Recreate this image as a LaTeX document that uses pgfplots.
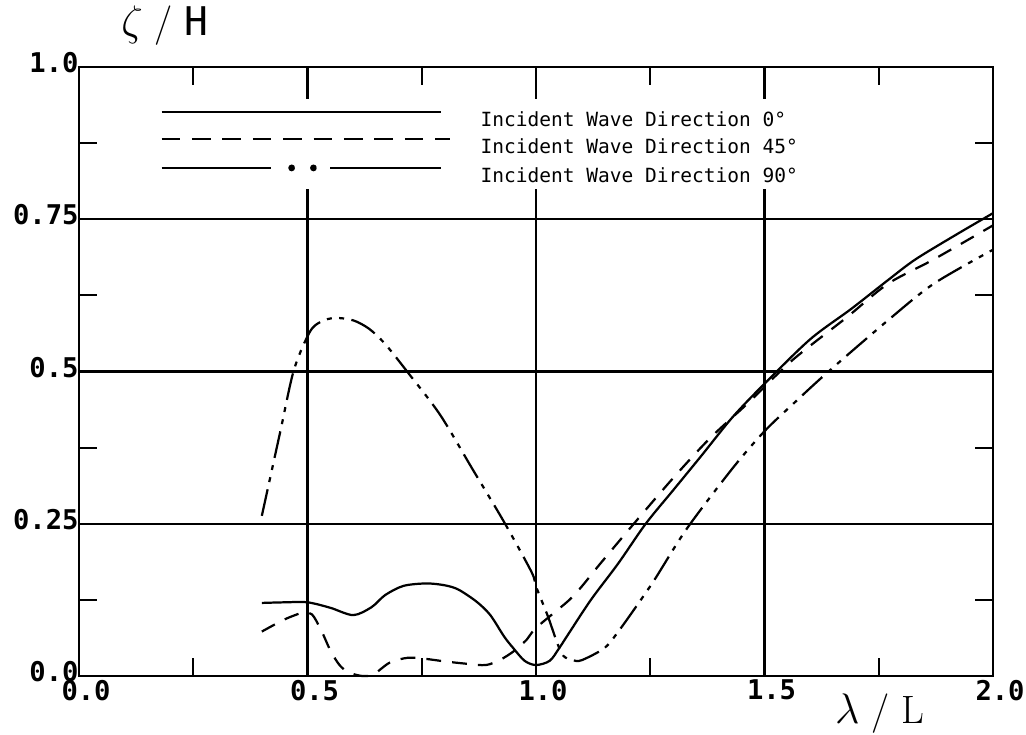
\documentclass[border=0pt]{standalone}
\usepackage{fontspec}
\setmonofont{DejaVu Sans Mono}
\usepackage{pgfplots}
\pgfplotsset{compat=1.18}
\begin{document}
\begin{tikzpicture}
\path[use as bounding box] (-1.124,-0.825) rectangle (13.469,9.615);
\begin{axis}[
  at={(0,0)}, anchor=south west,
  scale only axis, width=13cm, height=8.662cm,
  xmin=0, xmax=2, ymin=0, ymax=1,
  axis line style={line width=0.9pt},
  xtick={0,0.5,1,1.5,2}, xticklabels={0.0,0.5,1.0,1.5,2.0},
  minor xtick={0.25,0.75,1.25,1.75},
  ytick={0,0.25,0.5,0.75,1}, yticklabels={0.0,0.25,0.5,0.75,1.0},
  minor ytick={0.125,0.375,0.625,0.875},
  tick align=inside,
  major tick length=0.45cm, minor tick length=0.26cm,
  every tick/.style={black, line width=0.9pt},
  ymajorgrids, grid style={black, line width=0.9pt},
  ticklabel style={font=\fontsize{11}{13}\selectfont\ttfamily\bfseries},
  xticklabel style={anchor=north, inner sep=0pt, yshift=-0.05cm, xshift=0.1cm},
  yticklabel style={anchor=east, inner sep=0pt, xshift=0.0cm, yshift=0.06cm},
  legend style={at={(rel axis cs:0.0886,0.929)}, anchor=north west, draw=none, fill=none,
    inner sep=0pt, row sep=4.6pt, font=\fontsize{7.9}{9}\selectfont\ttfamily,
    nodes={inner sep=0pt, text height=6pt, text depth=0pt}},
  legend cell align=left,
  clip=false,
]
% vertical grid lines (stop below the legend)
\addplot[black, line width=0.9pt, forget plot] coordinates {(0.5,0) (0.5,0.8)};
\addplot[black, line width=0.9pt, forget plot] coordinates {(1.0,0) (1.0,0.8)};
\addplot[black, line width=0.9pt, forget plot] coordinates {(1.5,0) (1.5,0.8)};

% 0 deg (solid)
\addplot[black, line width=0.9pt, smooth,
  legend image code/.code={\draw[black, solid, line width=0.9pt] (0cm,0.1cm) -- (3.97cm,0.1cm); \path (4.52cm,0.1cm);}]
coordinates {
(0.40,0.120)(0.45,0.121)(0.50,0.121)(0.55,0.112)(0.60,0.100)(0.64,0.113)(0.67,0.133)
(0.71,0.148)(0.76,0.152)(0.80,0.149)(0.83,0.142)(0.87,0.122)(0.90,0.100)(0.93,0.065)
(0.95,0.046)(0.975,0.025)(1.00,0.018)(1.03,0.025)(1.05,0.045)(1.07,0.068)(1.12,0.125)
(1.18,0.185)(1.24,0.250)(1.30,0.305)(1.36,0.360)(1.43,0.425)(1.50,0.480)(1.60,0.553)
(1.69,0.603)(1.77,0.650)(1.83,0.684)(1.92,0.725)(2.00,0.760)
};
\addlegendentry{Incident Wave Direction 0°}

% 45 deg (dashed)
\addplot[black, line width=0.9pt, smooth, dash pattern=on 6pt off 4.5pt,
  legend image code/.code={\draw[black, line width=0.9pt, dash pattern=on 7.5pt off 4.8pt] (0cm,0.1cm) -- (4.1cm,0.1cm); \path (4.52cm,0.1cm);}]
coordinates {
(0.40,0.073)(0.45,0.093)(0.49,0.104)(0.51,0.101)(0.53,0.075)(0.55,0.042)(0.57,0.018)
(0.59,0.006)(0.62,0.000)(0.645,0.003)(0.68,0.022)(0.72,0.030)(0.76,0.028)(0.80,0.024)
(0.85,0.020)(0.89,0.018)(0.92,0.026)(0.95,0.040)(0.98,0.060)(1.00,0.079)(1.07,0.123)
(1.10,0.147)(1.14,0.184)(1.214,0.250)(1.30,0.325)(1.38,0.390)(1.465,0.449)(1.56,0.518)
(1.68,0.589)(1.77,0.644)(1.87,0.684)(2.00,0.740)
};
\addlegendentry{Incident Wave Direction 45°}

% 90 deg (long dash, dot, dot)
\addplot[black, line width=0.9pt, smooth, dash pattern=on 11pt off 3pt on 2pt off 3pt on 2pt off 3pt,
  legend image code/.code={\draw[black, solid, line width=0.9pt] (0cm,0.1cm) -- (1.55cm,0.1cm);
    \fill[black] (1.85cm,0.1cm) circle (0.9pt); \fill[black] (2.16cm,0.1cm) circle (0.9pt);
    \draw[black, solid, line width=0.9pt] (2.40cm,0.1cm) -- (3.97cm,0.1cm); \path (4.52cm,0.1cm);}]
coordinates {
(0.40,0.263)(0.44,0.400)(0.47,0.502)(0.505,0.565)(0.53,0.582)(0.56,0.588)(0.60,0.584)
(0.635,0.570)(0.67,0.545)(0.72,0.498)(0.79,0.429)(0.86,0.341)(0.93,0.253)(0.99,0.171)
(1.00,0.147)(1.026,0.098)(1.046,0.055)(1.06,0.033)(1.08,0.026)(1.10,0.026)(1.15,0.046)
(1.18,0.073)(1.22,0.115)(1.26,0.159)(1.33,0.242)(1.43,0.341)(1.50,0.402)(1.57,0.452)
(1.64,0.500)(1.77,0.584)(1.87,0.644)(2.00,0.700)
};
\addlegendentry{Incident Wave Direction 90°}

\node[anchor=south, inner sep=0pt, font=\fontsize{16}{18}\selectfont] at (rel axis cs:0.094,1) [yshift=0.3cm] {$\zeta$ / {\ttfamily H}};
\node[anchor=north, inner sep=0pt, font=\fontsize{16}{18}\selectfont] at (rel axis cs:0.876,0) [yshift=-0.24cm] {$\lambda$ / L};
\end{axis}
\end{tikzpicture}
\end{document}
